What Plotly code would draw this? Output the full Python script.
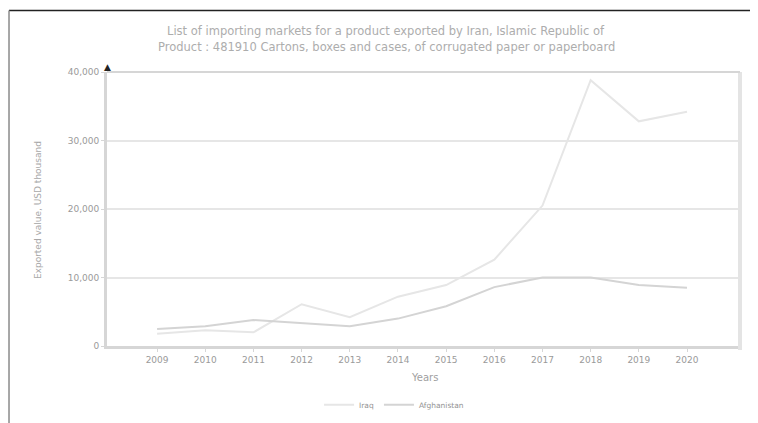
import plotly.graph_objects as go

years = [2009, 2010, 2011, 2012, 2013, 2014, 2015, 2016, 2017, 2018, 2019, 2020]
iraq = [1800, 2300, 2000, 6100, 4200, 7200, 8900, 12600, 20500, 38800, 32800, 34200]
afghanistan = [2500, 2900, 3800, 3300, 2900, 4000, 5800, 8600, 10000, 10000, 8900, 8500]
y_ticks = [0, 10000, 20000, 30000, 40000]
y_tick_labels = ["0", "10,000", "20,000", "30,000", "40,000"]

title_line1 = "List of importing markets for a product exported by Iran, Islamic Republic of"
title_line2 = "Product : 481910 Cartons, boxes and cases, of corrugated paper or paperboard"
y_title = "Exported value, USD thousand"
x_title = "Years"

fig = go.Figure()
fig.add_trace(go.Scatter(x=years, y=iraq, mode="lines", name="Iraq",
                         line=dict(color="#e6e6e6", width=2)))
fig.add_trace(go.Scatter(x=years, y=afghanistan, mode="lines", name="Afghanistan",
                         line=dict(color="#d4d4d4", width=2)))

font_fam = "DejaVu Sans, Verdana, sans-serif"
fig.update_layout(
    width=758, height=423,
    margin=dict(l=99, r=26, t=64, b=83),
    paper_bgcolor="white", plot_bgcolor="white",
    font=dict(family=font_fam, size=9, color="#9a9a9a"),
    showlegend=True,
    legend=dict(orientation="h", x=0.335, xanchor="left", y=-0.214, yanchor="middle",
                font=dict(size=7.5, color="#939393"), bgcolor="rgba(0,0,0,0)"),
    xaxis=dict(range=[2007.96, 2021.1], tickmode="array", tickvals=years,
               ticktext=[str(y) for y in years], showgrid=False,
               showline=True, linecolor="#d6d6d6", linewidth=3,
               ticks="outside", ticklen=3, tickcolor="#d6d6d6",
               tickfont=dict(size=9, color="#9a9a9a"),
               zeroline=False),
    yaxis=dict(range=[0, 40000], tickmode="array", tickvals=y_ticks, ticktext=y_tick_labels,
               showgrid=True, gridcolor="#e6e6e6", gridwidth=2,
               showline=True, linecolor="#d6d6d6", linewidth=3,
               ticks="outside", ticklen=3, tickcolor="#d6d6d6",
               tickfont=dict(size=9, color="#9a9a9a"),
               zeroline=False),
)

# titles as annotations
fig.add_annotation(x=0.4408, y=1.148, xref="paper", yref="paper", text=title_line1,
                   showarrow=False, xanchor="center", yanchor="middle",
                   font=dict(size=11.5, color="#adadad"))
fig.add_annotation(x=0.4408, y=1.092, xref="paper", yref="paper", text=title_line2,
                   showarrow=False, xanchor="center", yanchor="middle",
                   font=dict(size=11.5, color="#adadad"))
fig.add_annotation(x=-0.109, y=0.496, xref="paper", yref="paper", text=y_title,
                   showarrow=False, textangle=-90, xanchor="center", yanchor="middle",
                   font=dict(size=9, color="#a8a8a8"))
fig.add_annotation(x=0.502, y=-0.116, xref="paper", yref="paper", text=x_title,
                   showarrow=False, xanchor="center", yanchor="middle",
                   font=dict(size=10, color="#a0a0a0"))

# right frame line and top line
fig.add_shape(type="line", xref="paper", yref="paper", x0=1, x1=1, y0=-0.015, y1=1,
              line=dict(color="#e4e4e4", width=4))
fig.add_shape(type="line", xref="paper", yref="paper", x0=0, x1=1, y0=1, y1=1,
              line=dict(color="#d6d6d6", width=2))
# outer border (top dark, left grey)
fig.add_shape(type="line", xref="paper", yref="paper", x0=-0.1548, x1=1.05, y0=1.2246, y1=1.2246,
              line=dict(color="#222222", width=1.5))
fig.add_shape(type="line", xref="paper", yref="paper", x0=-0.1548, x1=-0.1548, y0=-0.35, y1=1.2246,
              line=dict(color="#8a8a8a", width=1.5))
# axis arrow marker
fig.add_annotation(x=0, y=1.0, xref="paper", yref="paper", text="▲", showarrow=False,
                   yanchor="bottom", xanchor="center", yshift=-2,
                   font=dict(size=9, color="#222222"))

fig.write_html("out.html")
